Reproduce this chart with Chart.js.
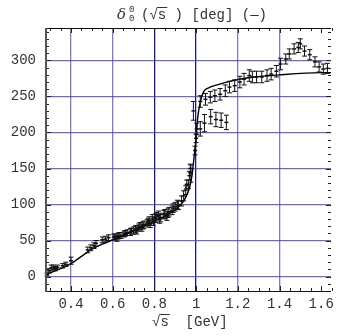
<!DOCTYPE html>
<html>
<head>
<meta charset="utf-8">
<script src="https://cdn.jsdelivr.net/npm/chart.js@4"></script>
<style>
  html, body { margin: 0; padding: 0; background: #fff; }
  #wrap { width: 339px; height: 336px; }
</style>
</head>
<body>
<div id="wrap"><canvas id="phaseChart" width="339" height="336"></canvas></div>
<script>
// curva del ajuste (linea continua)
const fitX = [0.28, 0.30, 0.35, 0.40, 0.45, 0.50, 0.55, 0.60, 0.65, 0.70, 0.75, 0.80, 0.85, 0.90, 0.93, 0.95,
              0.97, 0.98, 0.99, 1.00, 1.007, 1.02, 1.035, 1.06, 1.10, 1.16, 1.25, 1.40, 1.60, 1.65];
const fitY = [2, 5, 11, 18, 28, 38, 45, 51, 57, 63, 70, 77, 84, 93, 101, 110,
              125, 140, 165, 192, 219, 242, 256, 262, 266, 271, 276, 280, 283, 283];

// puntos experimentales con barras de error
const dataX = [0.285, 0.295, 0.305, 0.315, 0.325, 0.335, 0.36, 0.375, 0.40,
               0.48, 0.495, 0.51, 0.52, 0.55, 0.565, 0.58, 0.605, 0.63,
               0.61, 0.62, 0.64, 0.66, 0.67, 0.69, 0.70, 0.71, 0.73, 0.74, 0.75, 0.77, 0.78, 0.79,
               0.81, 0.82, 0.83, 0.85, 0.86, 0.87, 0.89, 0.90, 0.91, 0.93, 0.94,
               0.625, 0.655, 0.685, 0.715, 0.725, 0.745, 0.765, 0.775, 0.795, 0.805, 0.825, 0.845, 0.865, 0.885, 0.915,
               0.95, 0.955, 0.963, 0.968, 0.972, 0.975, 0.987, 0.995, 1.00, 1.003,
               1.02, 1.04, 1.07, 1.095, 1.12, 1.145,
               1.02, 1.045, 1.068, 1.09, 1.115, 1.14, 1.16, 1.185, 1.21, 1.23, 1.255, 1.27, 1.29,
               1.315, 1.34, 1.36, 1.385, 1.405, 1.43, 1.447, 1.47, 1.49, 1.50, 1.52, 1.545, 1.57,
               1.59, 1.61, 1.63];
const dataY = [3, 8, 12, 13, 11, 13, 15, 17, 22,
               37, 40, 43, 46, 51, 52, 54, 55, 57,
               55, 53, 57, 60, 61, 63, 64, 66, 70, 68, 72, 76, 73, 80,
               83, 85, 82, 87, 84, 90, 95, 97, 100, 105, 112,
               56, 59, 62, 64, 68, 71, 74, 78, 77, 81, 80, 86, 88, 92, 99,
               120, 128, 128, 140, 150, 143, 230, 175, 192, 205,
               205, 213, 222, 218, 217, 214,
               243, 246, 249, 251, 253, 258, 263, 265, 270, 274, 279, 277, 277,
               277, 279, 281, 285, 295, 302, 309, 316, 318, 323, 313, 308, 298,
               291, 288, 289];
const dataErr = [2, 3, 4, 3, 3, 3, 3, 3, 5,
                 4, 4, 4, 4, 4, 4, 4, 4, 4,
                 4, 4, 4, 4, 4, 4, 5, 5, 5, 5, 5, 5, 5, 6,
                 6, 6, 6, 6, 6, 6, 6, 6, 6, 7, 7,
                 4, 4, 5, 5, 5, 5, 5, 5, 6, 6, 6, 6, 6, 6, 6,
                 6, 6, 6, 6, 6, 12, 13, 6, 6, 8,
                 10, 12, 10, 10, 10, 10,
                 8, 8, 8, 8, 8, 8, 8, 8, 8, 8, 8, 8, 8,
                 8, 8, 8, 8, 8, 7, 7, 7, 7, 7, 7, 7, 7,
                 7, 7, 7];

// marcas de los ejes
const xTicks = [0.4, 0.6, 0.8, 1.0, 1.2, 1.4, 1.6];
const xTickLabels = ['0.4', '0.6', '0.8', '1', '1.2', '1.4', '1.6'];
const yTicks = [0, 50, 100, 150, 200, 250, 300];
const yTickLabels = ['0', '50', '100', '150', '200', '250', '300'];

const monoFont = '"Liberation Mono", "DejaVu Sans Mono", monospace';

// Dibujar barras de error sobre los puntos
const errorBars = {
    id: 'errorBars',
    afterDatasetsDraw(chart) {
        const ctx = chart.ctx;
        const yScale = chart.scales.y;
        const meta = chart.getDatasetMeta(1);
        ctx.save();
        ctx.strokeStyle = '#111';
        ctx.lineWidth = 1;
        meta.data.forEach((pt, i) => {
            const top = yScale.getPixelForValue(dataY[i] + dataErr[i]);
            const bot = yScale.getPixelForValue(dataY[i] - dataErr[i]);
            ctx.beginPath();
            ctx.moveTo(pt.x, top); ctx.lineTo(pt.x, bot);
            ctx.moveTo(pt.x - 2.5, top); ctx.lineTo(pt.x + 2.5, top);
            ctx.moveTo(pt.x - 2.5, bot); ctx.lineTo(pt.x + 2.5, bot);
            ctx.stroke();
        });
        ctx.restore();
    }
};

// Marco, marcas menores, titulo y etiqueta del eje X
const frame = {
    id: 'frame',
    afterDraw(chart) {
        const ctx = chart.ctx;
        const a = chart.chartArea;
        const xs = chart.scales.x, ys = chart.scales.y;
        ctx.save();
        // marcas menores
        ctx.strokeStyle = '#222';
        ctx.lineWidth = 1;
        ctx.beginPath();
        for (let v = -20; v <= 340; v += 10) {
            const py = Math.round(ys.getPixelForValue(v)) + 0.5;
            const len = (v % 50 === 0) ? 5 : 3;
            ctx.moveTo(a.left, py); ctx.lineTo(a.left + len, py);
            ctx.moveTo(a.right, py); ctx.lineTo(a.right - len, py);
        }
        for (let k = 6; k <= 33; k++) {
            const v = k * 0.05;
            const px = Math.round(xs.getPixelForValue(v)) + 0.5;
            const len = (k % 4 === 0) ? 5 : 3;
            ctx.moveTo(px, a.bottom); ctx.lineTo(px, a.bottom - len);
            ctx.moveTo(px, a.top); ctx.lineTo(px, a.top + len);
        }
        ctx.stroke();
        // bordes
        ctx.strokeStyle = '#111';
        ctx.beginPath();
        ctx.moveTo(a.left, a.top + 0.5); ctx.lineTo(a.right, a.top + 0.5);
        ctx.moveTo(a.left, a.bottom + 0.5); ctx.lineTo(a.right, a.bottom + 0.5);
        ctx.stroke();
        ctx.strokeStyle = '#555';
        ctx.lineWidth = 2;
        ctx.beginPath();
        ctx.moveTo(a.left, a.top); ctx.lineTo(a.left, a.bottom + 1);
        ctx.stroke();

        // titulo
        ctx.fillStyle = '#333';
        ctx.textBaseline = 'alphabetic';
        ctx.font = 'italic 15px "DejaVu Serif", serif';
        const tx = 117, ty = 19;
        ctx.fillText('δ', tx, ty);
        ctx.font = '9px ' + monoFont;
        ctx.fillText('0', tx + 12, ty - 7);
        ctx.fillText('0', tx + 12, ty + 2);
        ctx.font = '14px ' + monoFont;
        const rest = '(√s ) [deg] (—)';
        const rx = 141;
        ctx.fillText(rest, rx, ty);
        const w1 = ctx.measureText('(√').width, w2 = ctx.measureText('(√s').width;
        ctx.lineWidth = 1;
        ctx.strokeStyle = '#333';
        ctx.beginPath();
        ctx.moveTo(rx + w1 - 1, ty - 11.5); ctx.lineTo(rx + w2 + 1, ty - 11.5);
        ctx.stroke();

        // etiqueta del eje X
        const lx = 152, ly = 326;
        ctx.fillText('√s  [GeV]', lx, ly);
        const u1 = ctx.measureText('√').width, u2 = ctx.measureText('√s').width;
        ctx.beginPath();
        ctx.moveTo(lx + u1 - 1, ly - 11.5); ctx.lineTo(lx + u2 + 1, ly - 11.5);
        ctx.stroke();
        ctx.restore();
    }
};

const fitPoints = fitX.map((x, i) => ({ x: x, y: fitY[i] }));
const dataPoints = dataX.map((x, i) => ({ x: x, y: dataY[i] }));

const phaseConfig = {
    type: 'scatter',
    data: {
        datasets: [{
            type: 'line',
            label: 'fit',
            data: fitPoints,
            borderColor: '#000',
            borderWidth: 1.4,
            pointRadius: 0,
            cubicInterpolationMode: 'monotone',
            fill: false
        }, {
            label: 'data',
            data: dataPoints,
            showLine: false,
            pointStyle: 'line',
            pointRadius: 2,
            borderColor: '#111',
            borderWidth: 1.5,
            backgroundColor: '#111'
        }]
    },
    options: {
        responsive: false,
        animation: false,
        layout: { padding: { top: 28, right: 0, left: 0, bottom: 0 } },
        scales: {
            x: {
                type: 'linear',
                min: 0.28,
                max: 1.647,
                afterBuildTicks: axis => { axis.ticks = xTicks.map(v => ({ value: v })); },
                afterFit: axis => { axis.height = 45; },
                ticks: {
                    padding: 5,
                    color: '#333',
                    font: { family: monoFont, size: 14 },
                    maxRotation: 0,
                    callback: (v, i) => xTickLabels[i]
                },
                grid: {
                    drawTicks: false,
                    lineWidth: 1.3,
                    color: ctx => {
                        const v = ctx.tick ? ctx.tick.value : 0;
                        if (v > 1.5) return 'rgba(0,0,0,0)';
                        if (Math.abs(v - 0.8) < 1e-6 || Math.abs(v - 1.0) < 1e-6) return 'rgb(25,25,135)';
                        return 'rgba(80,80,170,0.75)';
                    }
                },
                border: { display: false }
            },
            y: {
                min: -20,
                max: 345,
                afterBuildTicks: axis => { axis.ticks = yTicks.map(v => ({ value: v })); },
                afterFit: axis => { axis.width = 46; },
                ticks: {
                    padding: 10,
                    color: '#333',
                    font: { family: monoFont, size: 14 },
                    callback: (v, i) => yTickLabels[i]
                },
                grid: {
                    drawTicks: false,
                    lineWidth: 1.3,
                    color: 'rgba(70,70,165,0.8)'
                },
                border: { display: false }
            }
        },
        plugins: {
            legend: { display: false },
            tooltip: { enabled: false },
            title: { display: false }
        }
    },
    plugins: [errorBars, frame]
};

const phaseChart = new Chart(document.getElementById('phaseChart'), phaseConfig);
</script>
</body>
</html>
